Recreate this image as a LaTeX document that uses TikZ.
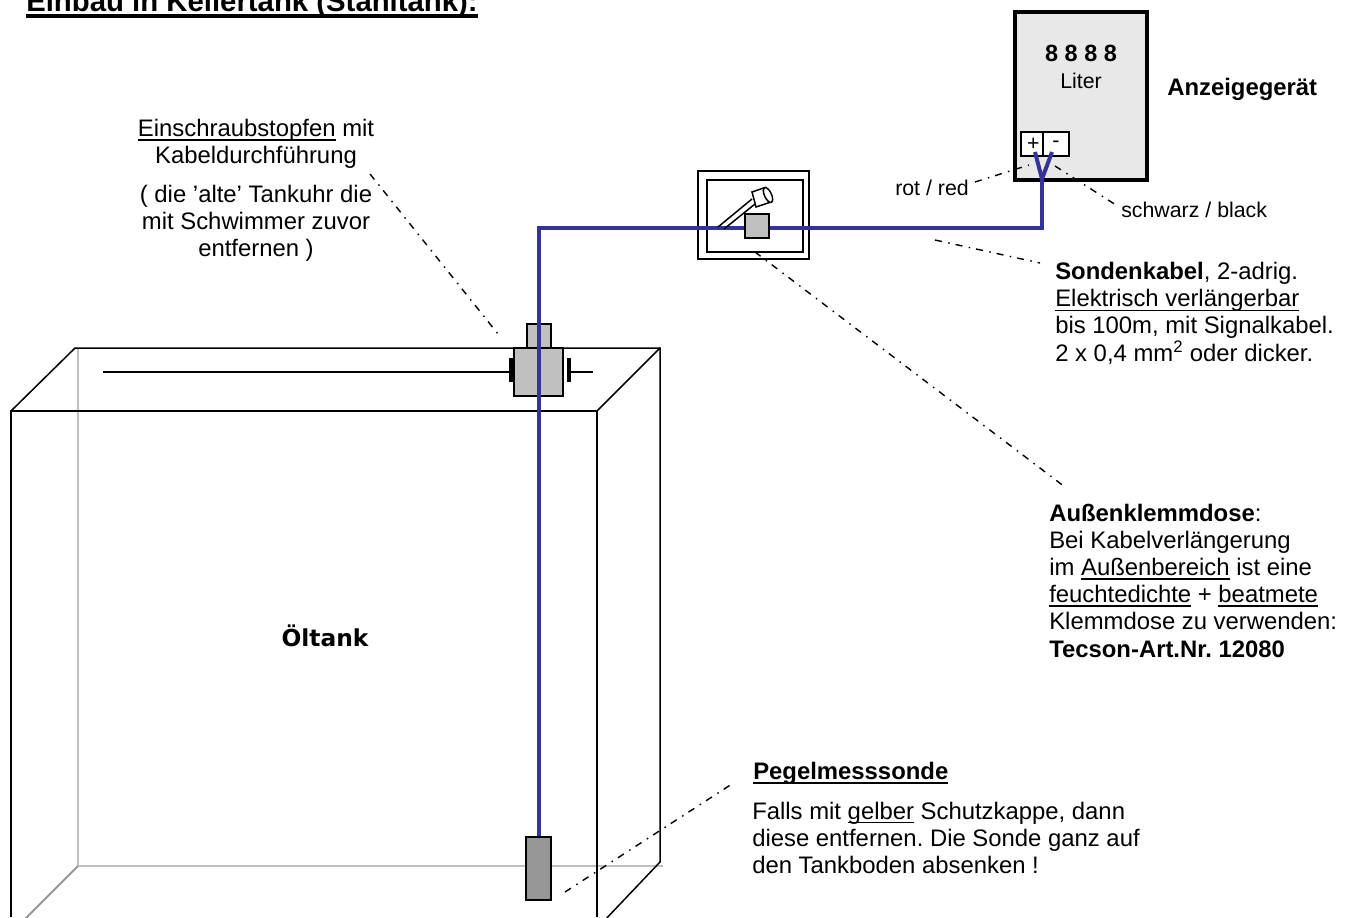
\documentclass[tikz,border=0pt]{standalone}
\usepackage{fontspec}
\setmainfont{Liberation Sans}
\newfontfamily\tahomaish{DejaVu Sans}
\definecolor{cable}{HTML}{333399}
\definecolor{lightg}{HTML}{C0C0C0}
\definecolor{midg}{HTML}{969696}
\definecolor{devg}{HTML}{E8E8E8}
\frenchspacing
\newsavebox{\ulbox}
\newcommand{\ul}[1]{\leavevmode\sbox{\ulbox}{#1}\rlap{\rule[-3.3pt]{\wd\ulbox}{1.2pt}}\usebox{\ulbox}}
\newcommand{\ulT}[1]{\leavevmode\sbox{\ulbox}{#1}\rlap{\rule[-4.2pt]{\wd\ulbox}{2.5pt}}\usebox{\ulbox}}
\tikzset{
  wall/.style={draw=black,line width=1.5*0.75pt},
  backwall/.style={draw=lightg,line width=2*0.75pt},
  frame/.style={draw=black,line width=2*0.75pt},
  part/.style={draw=black,line width=2*0.75pt,fill=lightg},
  cablewire/.style={draw=cable,line width=4*0.75pt,line join=miter},
  leader/.style={draw=black,line width=1.4*0.75pt,dash pattern=on 7*0.75pt off 6.5*0.75pt on 1.5*0.75pt off 6*0.75pt},
  lbl/.style={inner sep=0pt,font=\fontsize{17.9pt}{20.4pt}\selectfont\frenchspacing,align=left,anchor=north west},
  lblc/.style={lbl,align=center,anchor=north},
}
\begin{document}
\begin{tikzpicture}[x=0.75pt,y=-0.75pt]
\useasboundingbox (0,0) rectangle (1351,917);
\clip (0,0) rectangle (1351,917);
% tank back
\draw[backwall] (78,348) -- (78,866) -- (663,866);
\draw[backwall,draw=midg] (78,866) -- (22,922);
% tank front and top
\draw[wall] (11,917) -- (11,411) -- (597,411) -- (597,917);
\draw[wall] (11,411) -- (75,348) -- (660,348) -- (660,862) -- (603,922);
\draw[wall] (597,411) -- (660,348);
% cap and rod
\draw[wall] (103,372) -- (510,372);
\draw[wall] (569,372) -- (593,372);
\node[part,minimum width=24*0.75pt,minimum height=24*0.75pt,inner sep=0pt] (capTop) at (539,336) {};
\node[part,minimum width=49*0.75pt,minimum height=48*0.75pt,inner sep=0pt] (capBody) at (538.5,372) {};
\draw[line width=4*0.75pt] (511,358) -- (511,382);
\draw[line width=4*0.75pt] (569,358) -- (569,382);
% probe
\node[draw=black,line width=2*0.75pt,fill=midg,minimum width=25*0.75pt,minimum height=63*0.75pt,inner sep=0pt] (probe) at (538.5,868.5) {};
% device
\node[draw=black,line width=4*0.75pt,fill=devg,minimum width=132*0.75pt,minimum height=168*0.75pt,inner sep=0pt] (device) at (1081,96) {};
\node[draw=black,line width=1.5*0.75pt,fill=white,minimum width=22*0.75pt,minimum height=24*0.75pt,inner sep=0pt,font=\fontsize{16pt}{18pt}\selectfont] (plus) at (1032,144) {\kern2pt\raisebox{-1pt}{+}};
\node[draw=black,line width=1.5*0.75pt,fill=white,minimum width=26*0.75pt,minimum height=24*0.75pt,inner sep=0pt,font=\fontsize{16pt}{18pt}\selectfont] (minus) at (1056,144) {-};
% box
\node[frame,minimum width=111*0.75pt,minimum height=88*0.75pt,inner sep=0pt] (boxOuter) at (753.5,215) {};
\node[frame,minimum width=96*0.75pt,minimum height=72*0.75pt,inner sep=0pt] (boxInner) at (755,216) {};
% cable
\coordinate (yJoint) at (1042,179);
\coordinate (bendA) at (1042,228);
\coordinate (bendB) at (539,228);
\draw[cablewire] (yJoint) -- (bendA) -- (bendB) -- (probe.north -| bendB);
\draw[cablewire] (1035,152) -- (yJoint) -- (1052,152);
% gland in box
\node[part,minimum width=24*0.75pt,minimum height=24*0.75pt,inner sep=0pt] (gland) at (757,226) {};
\draw[line width=1.5*0.75pt] (718,227) -- (752,199);
\draw[line width=1.5*0.75pt] (724,229) -- (755,204);
\draw[line width=1.5*0.75pt,fill=white] (752,192) -- (765,187.5) -- (771,202) -- (756,207) -- cycle;
\draw[line width=1.5*0.75pt,fill=white,rotate around={25:(768,195)}] (768,195) ellipse [x radius=3.5*0.75pt,y radius=8*0.75pt];
% leaders
\coordinate (l1a) at (370,174); \coordinate (l1b) at (498,334);
\coordinate (l2a) at (975,182); \coordinate (l2b) at (1029,165);
\coordinate (l3a) at (1055,166); \coordinate (l3b) at (1116,205);
\coordinate (l4a) at (935,240); \coordinate (l4b) at (1040,263);
\coordinate (l5a) at (755,252); \coordinate (l5b) at (1065,487);
\coordinate (l6a) at (565,892); \coordinate (l6b) at (735,782);
\foreach \a/\b in {l1a/l1b,l2a/l2b,l3a/l3b,l4a/l4b,l5a/l5b,l6a/l6b} \draw[leader] (\a) -- (\b);
% texts
\node[inner sep=0pt,anchor=base west,font=\bfseries\fontsize{22pt}{24pt}\selectfont] (title) at (26,12) {\ulT{Einbau in Kellertank (Stahltank):}};
\node[inner sep=0pt,font=\bfseries\fontsize{17.6pt}{20pt}\selectfont] (digits) at (1081,53) {8 8 8 8};
\node[inner sep=0pt,font=\fontsize{16pt}{18pt}\selectfont] (liter) at (1081,81) {Liter};
\node[inner sep=0pt,anchor=west,font=\bfseries\fontsize{17.9pt}{20pt}\selectfont] (anz) at (1167,89) {Anzeigegerät};
\node[inner sep=0pt,font=\fontsize{16pt}{18pt}\selectfont] (rot) at (932,188) {rot / red};
\node[inner sep=0pt,anchor=west,font=\fontsize{16pt}{18pt}\selectfont] (schw) at (1121,210) {schwarz / black};
\node[lblc] (stopfen) at (256,119) {\ul{Einschraubstopfen} mit\\Kabeldurchführung};
\node[lblc] (alte) at (256,184.5) {( die 'alte' Tankuhr die\\mit Schwimmer zuvor\\entfernen )};
\node[lbl] (sonden) at (1055,262) {\textbf{Sondenkabel}, 2-adrig.\\\ul{Elektrisch verlängerbar}\\bis 100m, mit Signalkabel.\\2 x 0,4 mm\textsuperscript{2} oder dicker.};
\node[lbl] (aussen) at (1049,503.5) {\textbf{Außenklemmdose}:\\Bei Kabelverlängerung\\im \ul{Außenbereich} ist eine\\\ul{feuchtedichte} + \ul{beatmete}\\Klemmdose zu verwenden:\\\textbf{Tecson-Art.Nr. 12080}};
\node[lbl] (pegel) at (753,762) {\textbf{\ul{Pegelmesssonde}}};
\node[lbl] (falls) at (752,801.5) {Falls mit \ul{gelber} Schutzkappe, dann\\diese entfernen. Die Sonde ganz auf\\den Tankboden absenken !};
\node[inner sep=0pt,font=\tahomaish\bfseries\fontsize{17.5pt}{20pt}\selectfont] (oel) at (325,636) {Öltank};
\end{tikzpicture}
\end{document}
